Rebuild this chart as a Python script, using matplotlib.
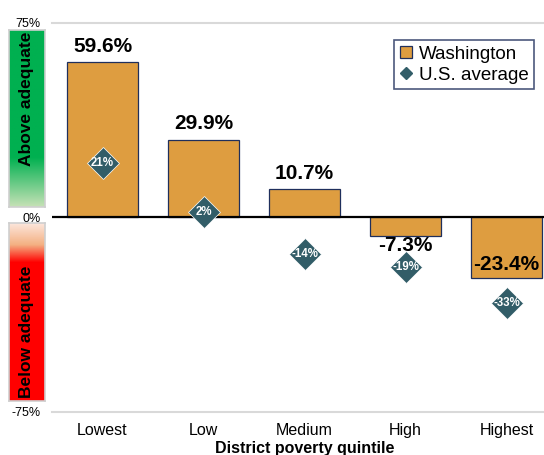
import numpy as np
import matplotlib
matplotlib.use("Agg")
import matplotlib.pyplot as plt
from matplotlib.colors import LinearSegmentedColormap
from matplotlib.lines import Line2D

plt.rcParams['font.family'] = ['Liberation Sans', 'DejaVu Sans']

# data
quintiles = ["Lowest", "Low", "Medium", "High", "Highest"]
washington = [59.6, 29.9, 10.7, -7.3, -23.4]
us_average = [21, 2, -14, -19, -33]
ytick_vals = [75, 0, -75]

bar_color = "#DE9D40"
edge_color = "#1F2F5C"
teal = "#325D68"

W, H = 544, 455
fig = plt.figure(figsize=(W / 100, H / 100), dpi=100)

def fy(px):
    return 1 - px / H

# main axes (right side runs past the canvas, like the cropped original)
x0, x1 = 52, 557
ytop, ybot = 22.5, 412
ax = fig.add_axes([x0 / W, fy(ybot), (x1 - x0) / W, (ybot - ytop) / H])
ax.set_xlim(-0.5, 4.5)
ax.set_ylim(-75, 75)

x = np.arange(len(quintiles))
ax.bar(x, washington, width=0.70, color=bar_color, edgecolor=edge_color,
       linewidth=0.9, zorder=2)
ax.axhline(0, color="black", lw=1.6, zorder=3)
for v in (75, -75):
    ax.axhline(v, color="#D9D9D9", lw=1.5, zorder=1, clip_on=False)

ax.plot(x, us_average, linestyle="none", marker="D", markersize=16.5,
        color=teal, markeredgecolor="white", markeredgewidth=0.5, zorder=4)
for xi, v in zip(x, us_average):
    ax.text(xi, v, f"{v}%", color="white", fontsize=8.3, fontweight="bold",
            ha="center", va="center", zorder=5)

# value labels on the bars
for xi, v in zip(x, washington):
    if v >= 0:
        ax.annotate(f"{v}%", (xi, v), xytext=(0, 5), textcoords="offset points",
                    ha="center", va="bottom", fontsize=15, fontweight="bold", zorder=6)
    elif v > -10:
        ax.annotate(f"{v}%", (xi, v), xytext=(0, 0), textcoords="offset points",
                    ha="center", va="top", fontsize=15, fontweight="bold", zorder=6)
    else:
        ax.annotate(f"{v}%", (xi, v), xytext=(0, 3), textcoords="offset points",
                    ha="center", va="bottom", fontsize=15, fontweight="bold", zorder=6)

ax.set_yticks(ytick_vals)
ax.set_yticklabels([f"{v}%" for v in ytick_vals], fontsize=9)
ax.tick_params(axis="y", length=0, pad=8)
ax.set_xticks(x)
ax.set_xticklabels(quintiles, fontsize=11.5)
ax.tick_params(axis="x", length=0, pad=8)
ax.set_xlabel("District poverty quintile", fontsize=11.5, fontweight="bold", labelpad=2)
for s in ax.spines.values():
    s.set_visible(False)

handles = [
    Line2D([], [], linestyle="none", marker="s", markersize=8.5,
           markerfacecolor=bar_color, markeredgecolor=edge_color, markeredgewidth=0.9),
    Line2D([], [], linestyle="none", marker="D", markersize=6.5, color=teal),
]
leg = fig.legend(handles, ["Washington", "U.S. average"], loc="upper right",
                 bbox_to_anchor=(534 / W, fy(40)), fontsize=13.5, frameon=True,
                 fancybox=False, handlelength=0.7, handletextpad=0.3,
                 borderpad=0.3, labelspacing=0.2, borderaxespad=0)
leg.get_frame().set_edgecolor(edge_color)
leg.get_frame().set_linewidth(1.2)

# gradient side boxes
green_cmap = LinearSegmentedColormap.from_list(
    "g", [(0, "#00B050"), (0.72, "#00B050"), (1, "#C6E2B6")])
red_cmap = LinearSegmentedColormap.from_list(
    "r", [(0, "#FCE6DC"), (0.12, "#F4B183"), (0.22, "#FF0000"), (1, "#FF0000")])

grad = np.linspace(0, 1, 256).reshape(-1, 1)
bx0, bx1 = 9, 45
for top, bot, cmap, label, ty in [(30, 207, green_cmap, "Above adequate", 0.39),
                                  (223, 401, red_cmap, "Below adequate", 0.61)]:
    bax = fig.add_axes([bx0 / W, fy(bot), (bx1 - bx0) / W, (bot - top) / H])
    bax.imshow(grad, aspect="auto", cmap=cmap, extent=(0, 1, 1, 0))
    bax.set_xlim(0, 1)
    bax.set_ylim(1, 0)
    bax.set_xticks([])
    bax.set_yticks([])
    for s in bax.spines.values():
        s.set_color("#CFCFCF")
        s.set_linewidth(1.2)
    bax.text(0.5, 1 - ty, label, rotation=90, ha="center", va="center",
             fontsize=12.5, fontweight="bold", transform=bax.transAxes)

fig.savefig("out.png", dpi=100)
